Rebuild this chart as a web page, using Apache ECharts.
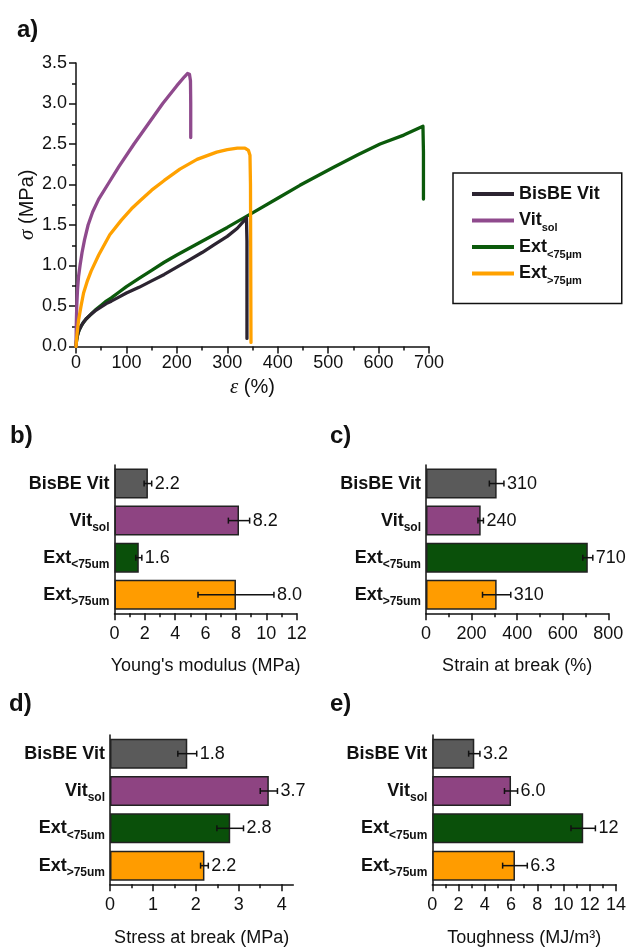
<!DOCTYPE html>
<html>
<head>
<meta charset="utf-8">
<script src="https://cdn.jsdelivr.net/npm/echarts@6/dist/echarts.min.js"></script>
<style>
  html, body { margin: 0; padding: 0; background: #ffffff; }
  #chart { width: 627px; height: 949px; }
</style>
</head>
<body>
<div id="chart"></div>
<script>
// ---------- data ----------
// Stress–strain curves, [strain (%), stress (MPa)]
const curveBisBEVit = [
  [0, 0], [1, 0.07], [3, 0.14], [6, 0.2], [10, 0.25], [15, 0.3], [20, 0.34], [30, 0.4],
  [40, 0.45], [50, 0.49], [60, 0.53], [70, 0.56], [85, 0.61], [100, 0.66], [125, 0.73],
  [150, 0.81], [175, 0.89], [200, 0.98], [225, 1.07], [250, 1.16], [275, 1.26], [300, 1.36],
  [320, 1.46], [333, 1.55], [338, 1.59], [339, 1.3], [339, 0.6], [339, 0.1]
];
const curveVitSol = [
  [0, 0], [0.5, 0.25], [1.5, 0.5], [3, 0.7], [5, 0.86], [8, 1.0], [12, 1.16], [17, 1.32],
  [24, 1.5], [33, 1.66], [45, 1.82], [63, 2.0], [85, 2.22], [115, 2.5], [140, 2.72],
  [172, 3.0], [200, 3.22], [215, 3.33], [221, 3.37], [225, 3.36], [227, 3.28], [227.5, 3.0],
  [227.5, 2.58]
];
const curveExtFine = [
  [0, 0], [1, 0.07], [3, 0.14], [6, 0.2], [10, 0.25], [15, 0.3], [20, 0.34], [30, 0.4],
  [40, 0.46], [50, 0.51], [60, 0.56], [70, 0.6], [85, 0.67], [100, 0.74], [125, 0.84],
  [150, 0.94], [175, 1.04], [200, 1.13], [250, 1.3], [300, 1.47], [350, 1.65], [400, 1.83],
  [444, 1.99], [510, 2.21], [560, 2.37], [603, 2.5], [650, 2.61], [688, 2.72], [689, 2.4],
  [689, 1.82]
];
const curveExtCoarse = [
  [0, 0], [2, 0.15], [5, 0.32], [10, 0.5], [15, 0.66], [22, 0.8], [30, 0.93], [45, 1.13],
  [67, 1.38], [90, 1.56], [110, 1.7], [127, 1.8], [150, 1.93], [175, 2.05], [206, 2.19],
  [240, 2.31], [279, 2.4], [300, 2.43], [320, 2.45], [335, 2.45], [342, 2.42], [345, 2.36],
  [346, 2.0], [347, 0.05]
];

// Legend entries (main text + subscript)
const legendMain = ['BisBE Vit', 'Vit', 'Ext', 'Ext'];
const legendSub = ['', 'sol', '<75µm', '>75µm'];

// Bar chart categories (main text + subscript)
const barMain = ['BisBE Vit', 'Vit', 'Ext', 'Ext'];
const barSub = ['', 'sol', '<75um', '>75um'];

// Mechanical properties: mean and error
const youngsModulus = [2.2, 8.2, 1.6, 8.0];
const youngsModulusErr = [0.25, 0.7, 0.2, 2.5];
const strainAtBreak = [310, 240, 710, 310];
const strainAtBreakErr = [32, 12, 22, 62];
const stressAtBreak = [1.8, 3.7, 2.8, 2.2];
const stressAtBreakErr = [0.22, 0.2, 0.31, 0.09];
const toughness = [3.2, 6.0, 11.5, 6.3];
const toughnessErr = [0.43, 0.5, 0.93, 0.94];

// Axis ticks
const curveStrainTicks = [0, 100, 200, 300, 400, 500, 600, 700];
const curveStressTicks = [0, 0.5, 1.0, 1.5, 2.0, 2.5, 3.0, 3.5];
const youngsTicks = [0, 2, 4, 6, 8, 10, 12];
const strainTicks = [0, 200, 400, 600, 800];
const stressTicks = [0, 1, 2, 3, 4];
const stressMinorTicks = [0.5, 1.5, 2.5, 3.5];
const stressAxisMax = 4.27;
const toughnessTicks = [0, 2, 4, 6, 8, 10, 12, 14];

// ---------- styling ----------
const FONT = '"Liberation Sans", Arial, Helvetica, sans-serif';
const INK = '#111111';
const lineColors = ['#2c2431', '#8f4a8d', '#0b5a0b', '#ffa100'];
const barColors = ['#5a5a5a', '#8e4482', '#0a500a', '#ff9c00'];

const seriesNames = legendMain.map((m, i) => m + legendSub[i]);
const categories = barMain.map((m, i) => m + barSub[i]);

// two significant figures for the value labels
function fmt2(v) {
  if (Math.abs(v) >= 10) return String(Number(v.toPrecision(2)));
  return v.toFixed(1);
}

const richLabel = {
  m: { fontFamily: FONT, fontSize: 18, fontWeight: 'bold', color: INK, lineHeight: 26 },
  s: { fontFamily: FONT, fontSize: 12, fontWeight: 'bold', color: INK, lineHeight: 10, verticalAlign: 'bottom' }
};
const richLegend = {
  m: { fontFamily: FONT, fontSize: 18, fontWeight: 'bold', color: INK, lineHeight: 26 },
  s: { fontFamily: FONT, fontSize: 11, fontWeight: 'bold', color: INK, lineHeight: 10, verticalAlign: 'bottom' }
};
const richItalic = {
  i: { fontFamily: 'serif', fontSize: 21, fontStyle: 'italic', color: INK },
  n: { fontFamily: FONT, fontSize: 20, color: INK }
};

function axisLineStyle() { return { show: true, lineStyle: { color: INK, width: 1.5 } }; }

function valueAxis(gridIndex, ticks, opts) {
  return Object.assign({
    type: 'value',
    gridIndex: gridIndex,
    min: ticks[0],
    max: ticks[ticks.length - 1],
    interval: ticks[1] - ticks[0],
    axisLine: axisLineStyle(),
    axisTick: { show: true, length: 7, lineStyle: { color: INK, width: 1.5 } },
    minorTick: { show: true, splitNumber: 2, length: 4, lineStyle: { color: INK, width: 1.5 } },
    axisLabel: { color: INK, fontFamily: FONT, fontSize: 18, margin: 12 },
    splitLine: { show: false },
    minorSplitLine: { show: false },
    nameLocation: 'middle',
    nameMoveOverlap: false,
    nameGap: 44,
    nameTextStyle: { color: INK, fontFamily: FONT, fontSize: 18, verticalAlign: 'top' }
  }, opts || {});
}

function categoryAxis(gridIndex) {
  return {
    type: 'category',
    gridIndex: gridIndex,
    data: categories,
    inverse: true,
    axisLine: axisLineStyle(),
    axisTick: { show: false },
    splitLine: { show: false },
    axisLabel: {
      margin: 5,
      formatter: (val, idx) => barSub[idx] ? `{m|${barMain[idx]}}{s|${barSub[idx]}}` : `{m|${barMain[idx]}}`,
      rich: richLabel
    }
  };
}

function barSeries(values, xi, yi) {
  return {
    type: 'bar',
    xAxisIndex: xi,
    yAxisIndex: yi,
    barWidth: 30,
    silent: true,
    data: values.map((v, i) => ({ value: v, itemStyle: { color: barColors[i] } })),
    itemStyle: { borderColor: '#222222', borderWidth: 1.5 }
  };
}

function errorSeries(values, errs, xi, yi) {
  return {
    type: 'custom',
    xAxisIndex: xi,
    yAxisIndex: yi,
    z: 5,
    silent: true,
    data: values.map((v, i) => [v, i, errs[i]]),
    encode: { x: 0, y: 1 },
    renderItem(params, api) {
      const v = api.value(0), idx = api.value(1), e = api.value(2);
      const lo = api.coord([v - e, idx]);
      const hi = api.coord([v + e, idx]);
      const cap = 3;
      const st = { stroke: INK, lineWidth: 1.5 };
      return {
        type: 'group',
        children: [
          { type: 'line', shape: { x1: lo[0], y1: lo[1], x2: hi[0], y2: hi[1] }, style: st },
          { type: 'line', shape: { x1: lo[0], y1: lo[1] - cap, x2: lo[0], y2: lo[1] + cap }, style: st },
          { type: 'line', shape: { x1: hi[0], y1: hi[1] - cap, x2: hi[0], y2: hi[1] + cap }, style: st },
          {
            type: 'text', x: hi[0] + 3, y: hi[1],
            style: { text: fmt2(v), fill: INK, font: '18px ' + FONT, align: 'left', verticalAlign: 'middle' }
          }
        ]
      };
    }
  };
}

function lineSeries(name, data, color) {
  return {
    type: 'line', name: name, data: data, xAxisIndex: 0, yAxisIndex: 0,
    showSymbol: false, symbol: 'none', color: color, silent: true,
    lineStyle: { color: color, width: 3.3, cap: 'round', join: 'round' }
  };
}

const panelLabel = (t, x, y) => ({
  type: 'text', x: x, y: y,
  style: { text: t, font: 'bold 24px ' + FONT, fill: INK, verticalAlign: 'middle' }
});

const option = {
  backgroundColor: '#ffffff',
  animation: false,
  grid: [
    { left: 76, top: 63, width: 353, height: 283.5, outerBoundsMode: 'none' },
    { left: 114.5, top: 465, width: 182.2, height: 148.3, outerBoundsMode: 'none' },
    { left: 426, top: 465, width: 182.3, height: 148.3, outerBoundsMode: 'none' },
    { left: 110, top: 735, width: 183.3, height: 149.3, outerBoundsMode: 'none' },
    { left: 432.3, top: 735, width: 183.7, height: 149.3, outerBoundsMode: 'none' }
  ],
  xAxis: [
    valueAxis(0, curveStrainTicks, {
      axisLabel: { color: INK, fontFamily: FONT, fontSize: 18, margin: 8 },
      name: '{i|ε}{n| (%)}', nameGap: 30,
      nameTextStyle: { verticalAlign: 'top', rich: richItalic }
    }),
    valueAxis(1, youngsTicks, { name: "Young's modulus (MPa)", position: 'bottom' }),
    valueAxis(2, strainTicks, { name: 'Strain at break (%)', position: 'bottom' }),
    valueAxis(3, stressTicks, {
      max: stressAxisMax,
      position: 'bottom',
      name: 'Stress at break (MPa)', nameGap: 45,
      axisTick: { show: true, length: 7, customValues: stressTicks, lineStyle: { color: INK, width: 1.5 } },
      axisLabel: { color: INK, fontFamily: FONT, fontSize: 18, margin: 12, customValues: stressTicks },
      minorTick: { show: false }
    }),
    {
      type: 'value', gridIndex: 3, min: 0, max: stressAxisMax, position: 'bottom', offset: 0,
      axisLine: { show: false }, axisLabel: { show: false }, splitLine: { show: false },
      axisTick: { show: true, length: 4, customValues: stressMinorTicks, lineStyle: { color: INK, width: 1.5 } }
    },
    valueAxis(4, toughnessTicks, { name: 'Toughness (MJ/m³)', nameGap: 45, position: 'bottom' })
  ],
  yAxis: [
    valueAxis(0, curveStressTicks, {
      axisLabel: { color: INK, fontFamily: FONT, fontSize: 18, margin: 9, formatter: v => v.toFixed(1) },
      name: '{i|σ}{n| (MPa)}', nameGap: 38, nameRotate: 90,
      nameTextStyle: { rich: richItalic }
    }),
    categoryAxis(1),
    categoryAxis(2),
    categoryAxis(3),
    categoryAxis(4)
  ],
  legend: {
    left: 453, top: 173,
    orient: 'vertical',
    icon: 'rect',
    itemWidth: 42, itemHeight: 4, itemGap: 4.5, itemTextGap: 8,
    padding: [12, 19, 17, 19],
    borderColor: INK, borderWidth: 1.5, borderRadius: 0,
    selectedMode: false,
    data: seriesNames,
    formatter: name => {
      const i = seriesNames.indexOf(name);
      return `{m|${legendMain[i]}}{s|${legendSub[i] || ' '}}`;
    },
    textStyle: { fontFamily: FONT, fontSize: 18, fontWeight: 'bold', color: INK, rich: richLegend }
  },
  graphic: [
    panelLabel('a)', 17, 30),
    panelLabel('b)', 10, 436),
    panelLabel('c)', 330, 436),
    panelLabel('d)', 9, 704),
    panelLabel('e)', 330, 704)
  ],
  series: [
    lineSeries(seriesNames[2], curveExtFine, lineColors[2]),
    lineSeries(seriesNames[0], curveBisBEVit, lineColors[0]),
    lineSeries(seriesNames[1], curveVitSol, lineColors[1]),
    lineSeries(seriesNames[3], curveExtCoarse, lineColors[3]),
    barSeries(youngsModulus, 1, 1),
    errorSeries(youngsModulus, youngsModulusErr, 1, 1),
    barSeries(strainAtBreak, 2, 2),
    errorSeries(strainAtBreak, strainAtBreakErr, 2, 2),
    barSeries(stressAtBreak, 3, 3),
    errorSeries(stressAtBreak, stressAtBreakErr, 3, 3),
    barSeries(toughness, 5, 4),
    errorSeries(toughness, toughnessErr, 5, 4)
  ]
};

const chart = echarts.init(document.getElementById('chart'), null, { renderer: 'canvas' });
chart.setOption(option);
</script>
</body>
</html>
